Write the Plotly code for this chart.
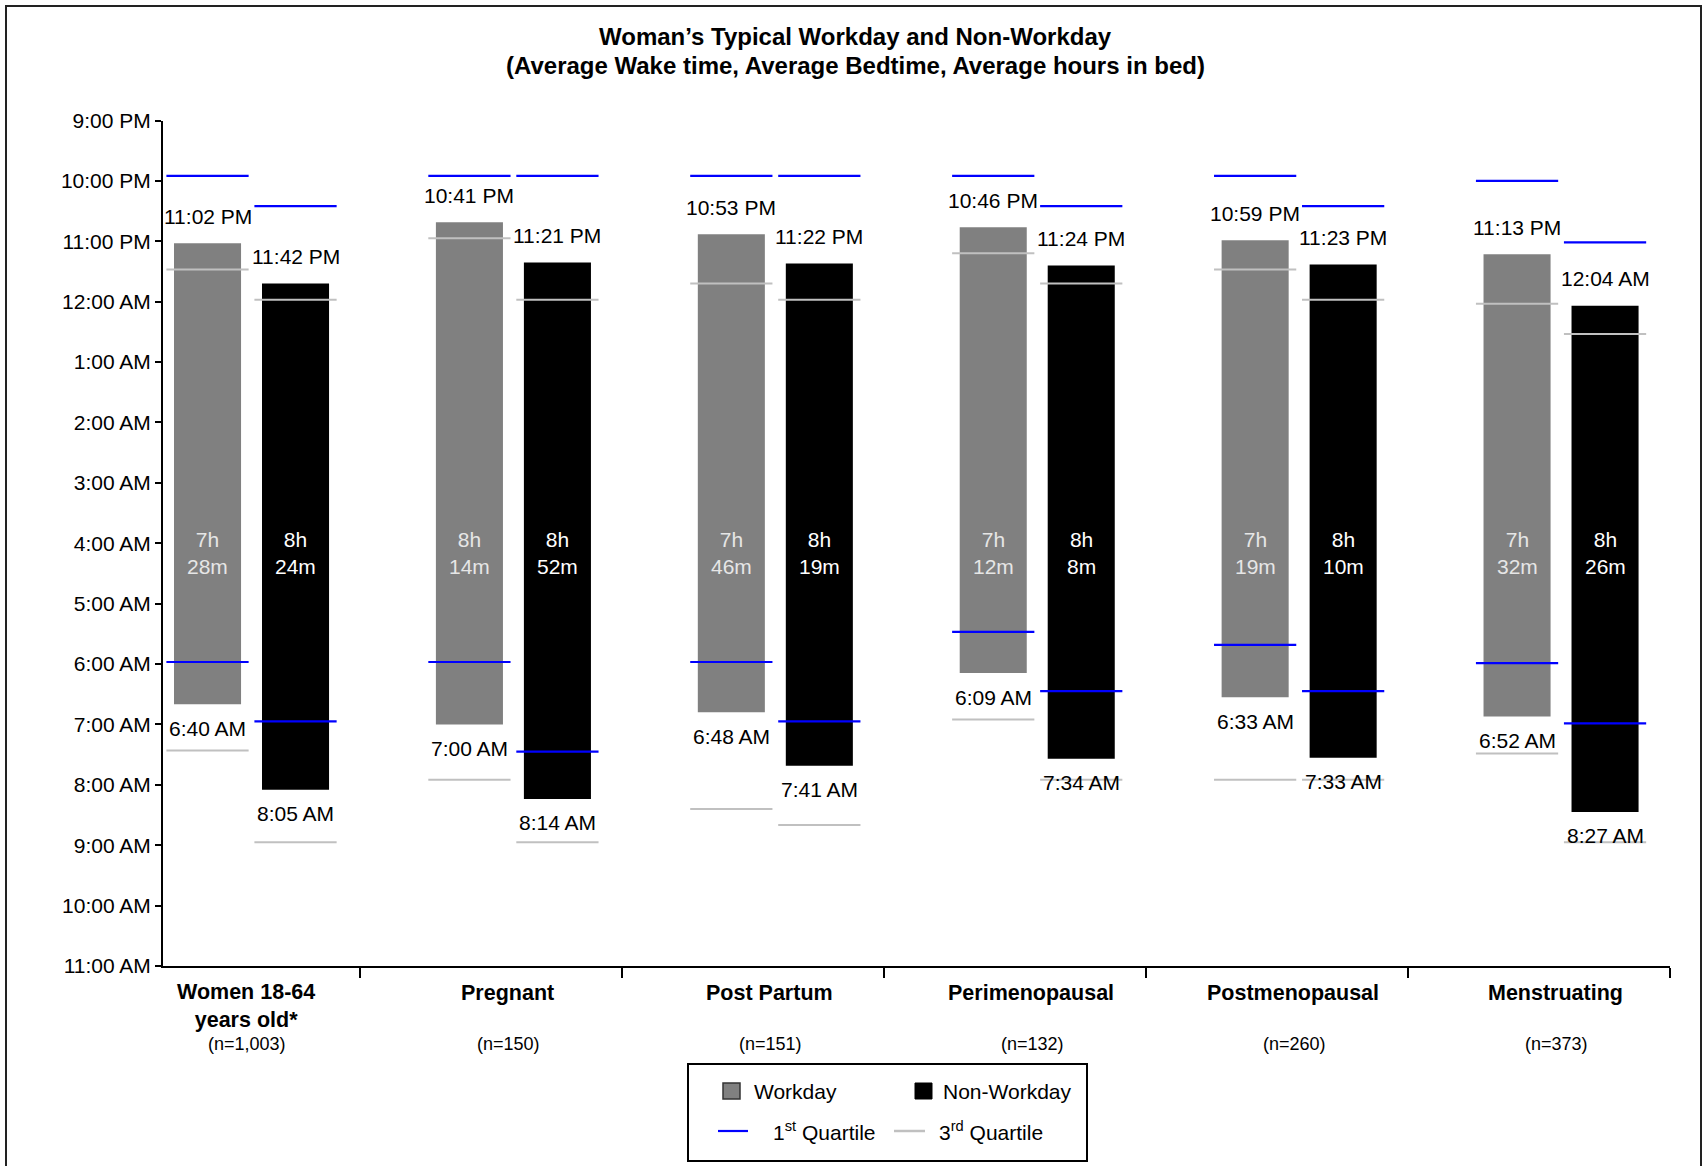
import plotly.graph_objects as go

# ---- data -----------------------------------------------------------------
categories = ["Women 18-64<br>years old*", "Pregnant", "Post Partum",
              "Perimenopausal", "Postmenopausal", "Menstruating"]
sample_sizes = ["(n=1,003)", "(n=150)", "(n=151)", "(n=132)", "(n=260)", "(n=373)"]

workday_bedtime = ["11:02 PM", "10:41 PM", "10:53 PM", "10:46 PM", "10:59 PM", "11:13 PM"]
workday_waketime = ["6:40 AM", "7:00 AM", "6:48 AM", "6:09 AM", "6:33 AM", "6:52 AM"]
nonworkday_bedtime = ["11:42 PM", "11:21 PM", "11:22 PM", "11:24 PM", "11:23 PM", "12:04 AM"]
nonworkday_waketime = ["8:05 AM", "8:14 AM", "7:41 AM", "7:34 AM", "7:33 AM", "8:27 AM"]

workday_hours_in_bed = ["7h 28m", "8h 14m", "7h 46m", "7h 12m", "7h 19m", "7h 32m"]
nonworkday_hours_in_bed = ["8h 24m", "8h 52m", "8h 19m", "8h 8m", "8h 10m", "8h 26m"]

# quartiles of bedtime and wake time
workday_bed_q1 = ["9:55 PM", "9:55 PM", "9:55 PM", "9:55 PM", "9:55 PM", "10:00 PM"]
workday_bed_q3 = ["11:28 PM", "10:57 PM", "11:42 PM", "11:12 PM", "11:28 PM", "12:02 AM"]
workday_wake_q1 = ["5:58 AM", "5:58 AM", "5:58 AM", "5:28 AM", "5:41 AM", "5:59 AM"]
workday_wake_q3 = ["7:26 AM", "7:55 AM", "8:24 AM", "6:55 AM", "7:55 AM", "7:29 AM"]
nonworkday_bed_q1 = ["10:25 PM", "9:55 PM", "9:55 PM", "10:25 PM", "10:25 PM", "11:01 PM"]
nonworkday_bed_q3 = ["11:58 PM", "11:58 PM", "11:58 PM", "11:42 PM", "11:58 PM", "12:32 AM"]
nonworkday_wake_q1 = ["6:57 AM", "7:27 AM", "6:57 AM", "6:27 AM", "6:27 AM", "6:59 AM"]
nonworkday_wake_q3 = ["8:57 AM", "8:57 AM", "8:40 AM", "7:55 AM", "7:55 AM", "8:57 AM"]

time_axis_labels = ["9:00 PM", "10:00 PM", "11:00 PM", "12:00 AM", "1:00 AM", "2:00 AM",
                    "3:00 AM", "4:00 AM", "5:00 AM", "6:00 AM", "7:00 AM", "8:00 AM",
                    "9:00 AM", "10:00 AM", "11:00 AM"]

title_lines = ["Woman’s Typical Workday and Non-Workday",
               "(Average Wake time, Average Bedtime, Average hours in bed)"]


def clock_to_hours(label):
    """Clock time -> hours on a 21..35 scale (9 PM .. 11 AM next day)."""
    t, ampm = label.split()
    h, m = (int(v) for v in t.split(":"))
    h = h % 12 + (12 if ampm == "PM" else 24)
    return h + m / 60.0


def conv(values):
    return [clock_to_hours(v) for v in values]


W, H = 1704, 1166
FONT = "Liberation Sans, Arial, sans-serif"


def px(x):
    return x / W


def py(y):
    return 1 - y / H


idx = list(range(len(categories)))
BAR_W = 0.256
SHIFT = 0.168          # distance of each bar from the pair centre
SEG_HALF = 0.157       # half length of the quartile markers

GRAY = "#808080"
BLUE = "#0000ff"
LIGHT = "#c0c0c0"
TXT = 21

fig = go.Figure()

series = [
    ("Workday", workday_bedtime, workday_waketime, GRAY, -SHIFT,
     workday_bed_q1, workday_bed_q3, workday_wake_q1, workday_wake_q3,
     workday_hours_in_bed, "#e6e6e6"),
    ("Non-Workday", nonworkday_bedtime, nonworkday_waketime, "#000000", SHIFT,
     nonworkday_bed_q1, nonworkday_bed_q3, nonworkday_wake_q1, nonworkday_wake_q3,
     nonworkday_hours_in_bed, "#ffffff"),
]

annotations = []
q1_x, q1_y, q3_x, q3_y = [], [], [], []

for (name, bed, wake, color, shift, bq1, bq3, wq1, wq3, inbed, txtcol) in series:
    bed_h = conv(bed)
    wake_h = conv(wake)
    fig.add_trace(go.Bar(
        x=idx, base=bed_h, y=[w - b for b, w in zip(bed_h, wake_h)],
        offset=shift - BAR_W / 2, width=BAR_W,
        marker=dict(color=color, line=dict(width=0)),
        name=name, showlegend=False, hoverinfo="skip",
    ))
    for i in idx:
        xc = i + shift
        for v in (clock_to_hours(bq1[i]), clock_to_hours(wq1[i])):
            q1_x += [xc - SEG_HALF, xc + SEG_HALF, None]
            q1_y += [v, v, None]
        for v in (clock_to_hours(bq3[i]), clock_to_hours(wq3[i])):
            q3_x += [xc - SEG_HALF, xc + SEG_HALF, None]
            q3_y += [v, v, None]
        annotations.append(dict(x=xc, y=bed_h[i], xref="x", yref="y", yshift=27,
                                xanchor="center", yanchor="middle",
                                text=bed[i], showarrow=False,
                                font=dict(family=FONT, size=TXT, color="#000")))
        annotations.append(dict(x=xc, y=wake_h[i], xref="x", yref="y", yshift=-24,
                                xanchor="center", yanchor="middle",
                                text=wake[i], showarrow=False,
                                font=dict(family=FONT, size=TXT, color="#000")))
        hrs, mins = inbed[i].split()
        annotations.append(dict(x=xc, y=clock_to_hours("4:10 AM"), xref="x", yref="y",
                                xanchor="center", yanchor="middle",
                                text=f"{hrs}<br>{mins}", showarrow=False,
                                font=dict(family=FONT, size=TXT, color=txtcol)))

fig.add_trace(go.Scatter(x=q3_x, y=q3_y, mode="lines",
                         line=dict(color=LIGHT, width=2), showlegend=False,
                         hoverinfo="skip"))
fig.add_trace(go.Scatter(x=q1_x, y=q1_y, mode="lines",
                         line=dict(color=BLUE, width=2.2), showlegend=False,
                         hoverinfo="skip"))

# category names and sample sizes under the axis
for i in idx:
    two_lines = "<br>" in categories[i]
    annotations.append(dict(x=i, xref="x", y=py(1006 if two_lines else 993), yref="paper",
                            xanchor="center", yanchor="middle",
                            xshift=-6, text=f"<b>{categories[i]}</b>", showarrow=False,
                            font=dict(family=FONT, size=21.5, color="#000")))
    annotations.append(dict(x=i, xref="x", y=py(1044), yref="paper", xshift=-5,
                            xanchor="center", yanchor="middle",
                            text=sample_sizes[i], showarrow=False,
                            font=dict(family=FONT, size=18, color="#000")))

# two-line bold title
for line, yc in zip(title_lines, (37, 65)):
    annotations.append(dict(x=px(855), y=py(yc), xref="paper", yref="paper",
                            xanchor="center", yanchor="middle",
                            text=f"<b>{line}</b>", showarrow=False,
                            font=dict(family=FONT, size=24, color="#000")))

# legend contents
legend_text = [("Workday", 752, 1091), ("Non-Workday", 941, 1091),
               ("1<sup>st</sup> Quartile", 771, 1131), ("3<sup>rd</sup> Quartile", 937, 1131)]
for txt, x0, y0 in legend_text:
    annotations.append(dict(x=px(x0), y=py(y0), xref="paper", yref="paper",
                            xanchor="left", yanchor="middle", text=txt, showarrow=False,
                            font=dict(family=FONT, size=TXT, color="#000")))

shapes = [
    # outer frame
    dict(type="rect", xref="paper", yref="paper", x0=px(6), x1=px(1701),
         y0=-0.02, y1=py(6), line=dict(color="#222", width=2)),
    # legend frame
    dict(type="rect", xref="paper", yref="paper", x0=px(688), x1=px(1087),
         y0=py(1161), y1=py(1064), line=dict(color="#000", width=2),
         fillcolor="white"),
    dict(type="rect", xref="paper", yref="paper", x0=px(723), x1=px(740),
         y0=py(1099), y1=py(1083), line=dict(color="#333", width=1.5),
         fillcolor=GRAY),
    dict(type="rect", xref="paper", yref="paper", x0=px(915), x1=px(932),
         y0=py(1099), y1=py(1083), line=dict(color="#000", width=1),
         fillcolor="#000"),
    dict(type="line", xref="paper", yref="paper", x0=px(718), x1=px(748),
         y0=py(1131), y1=py(1131), line=dict(color=BLUE, width=2.2)),
    dict(type="line", xref="paper", yref="paper", x0=px(894), x1=px(925),
         y0=py(1131), y1=py(1131), line=dict(color=LIGHT, width=2.5)),
]

x_left = -0.338
x_right = 5.416

fig.update_layout(
    width=W, height=H, autosize=False,
    margin=dict(l=0, r=0, t=0, b=0, pad=0, autoexpand=False),
    paper_bgcolor="white", plot_bgcolor="white",
    barmode="overlay",
    showlegend=False,
    annotations=annotations,
    shapes=shapes,
    xaxis=dict(domain=[px(163), px(1670)], range=[x_left, x_right],
               showline=True, linecolor="#000", linewidth=2,
               ticks="outside", ticklen=10, tickwidth=2, tickcolor="#000",
               tickvals=[i + 0.416 for i in idx], showticklabels=False,
               showgrid=False, zeroline=False, fixedrange=True, automargin=False),
    yaxis=dict(domain=[py(966), py(120.5)], range=[35, 21],
               showline=True, linecolor="#000", linewidth=2,
               ticks="outside", ticklen=6, tickwidth=2, tickcolor="#000",
               tickvals=list(range(21, 36)), ticktext=time_axis_labels,
               tickfont=dict(family=FONT, size=TXT, color="#000"),
               showgrid=False, zeroline=False, fixedrange=True, automargin=False),
)

fig.write_html(
    "out.html",
    config={"displayModeBar": False},
    post_script="document.body.style.margin='0';document.body.style.overflow='hidden';",
)
